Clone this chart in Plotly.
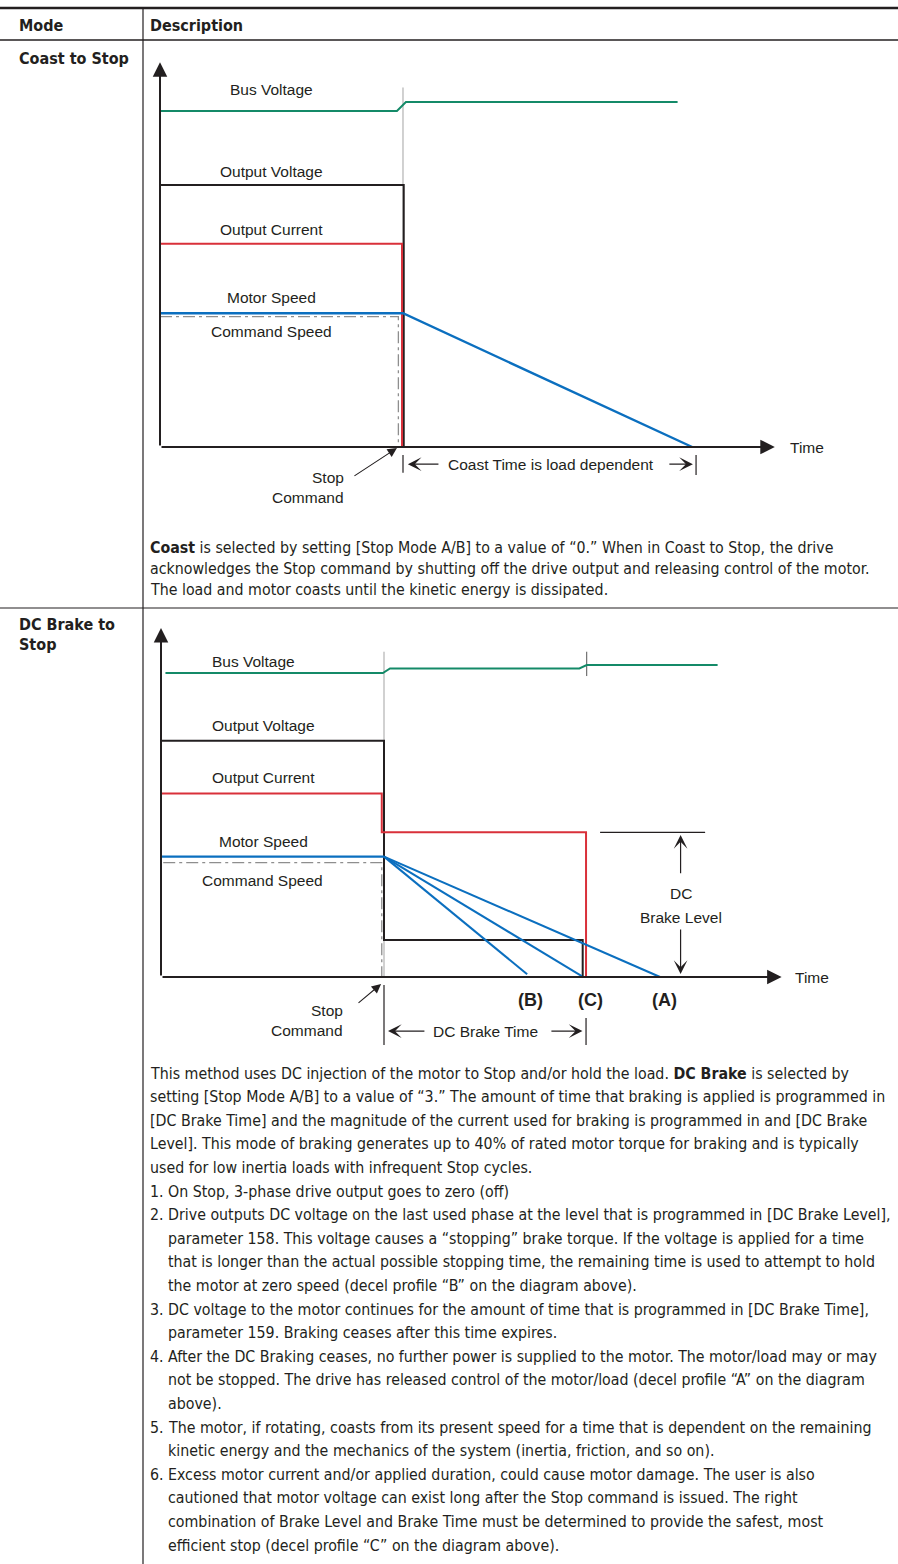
import plotly.graph_objects as go

W, H = 898, 1564

# ---------------- data ----------------
# Coast to Stop diagram (time in arbitrary units, stop command at t = 10; relative signal levels)
coast_bus_t = [0.0, 9.75, 10.12, 21.3]
coast_bus_v = [10.0, 10.0, 10.27, 10.27]
coast_outv_t = [0.0, 10.03, 10.03]
coast_outv_v = [7.8, 7.8, 0.0]
coast_outi_t = [0.0, 9.96, 9.96]
coast_outi_v = [6.05, 6.05, 0.0]
coast_speed_t = [0.0, 10.0, 21.9]
coast_speed_v = [3.98, 3.98, 0.0]
coast_cmd_t = [0.0, 9.81, 9.81]
coast_cmd_v = [3.88, 3.88, 0.0]
coast_stop_t = [10.0, 10.0]
coast_stop_v = [0.0, 10.7]
coast_time_end = 22.06
coast_time_axis_end = 25.3
coast_yaxis_top = 11.45

# DC Brake to Stop diagram
dc_bus_t = [0.2, 9.95, 10.27, 18.76, 19.09, 24.96]
dc_bus_v = [10.0, 10.0, 10.15, 10.15, 10.26, 10.26]
dc_stop_t = [10.0, 10.0]
dc_stop_v = [0.0, 10.7]
dc_tick_t = [19.09, 19.09]
dc_tick_v = [9.9, 10.7]
dc_outv_t = [0.0, 10.0, 10.0, 18.91, 18.91]
dc_outv_v = [7.77, 7.77, 1.22, 1.22, 0.0]
dc_outi_t = [0.0, 9.9, 9.9, 19.06, 19.06]
dc_outi_v = [6.04, 6.04, 4.76, 4.76, 0.0]
dc_speed_t = [0.0, 10.0]
dc_speed_v = [3.96, 3.96]
dc_decel_names = ["(B)", "(C)", "(A)"]
dc_decel_end_t = [16.42, 18.87, 22.38]
dc_decel_end_v = [0.09, 0.03, 0.0]
dc_cmd_t = [0.1, 9.9, 9.9]
dc_cmd_v = [3.76, 3.76, 0.0]
dc_level_mark_t = [19.69, 24.4]
dc_level_v = 4.76
dc_brake_end = 19.06
dc_time_axis_end = 27.83
dc_yaxis_top = 11.48

# ---------------- styles ----------------
GREEN = "#148a68"
BLACK = "#231f20"
RED = "#d9303a"
BLUE = "#0b6fbf"
GRAY = "#a3a3a3"
DASHGRAY = "#8e8e8e"
DIAG_FONT = "Liberation Sans, Arial, sans-serif"
BODY_FONT = "DejaVu Sans Condensed, Liberation Sans Narrow, sans-serif"
BODY_SIZE = 15.8

# diagram geometry (pixel origin, pixels per unit, axis ranges)
D1 = dict(x0=160, sx=24.3, y0=447, sy=33.6, xr=[-0.6, 27.5], yr=[-2.6, 12.2])
D2 = dict(x0=161, sx=22.3, y0=977, sy=30.4, xr=[-0.6, 31.0], yr=[-3.0, 12.2])


def axis_domains(d):
    xd = [(d["x0"] + d["xr"][0] * d["sx"]) / W, (d["x0"] + d["xr"][1] * d["sx"]) / W]
    yd = [1 - (d["y0"] - d["yr"][0] * d["sy"]) / H, 1 - (d["y0"] - d["yr"][1] * d["sy"]) / H]
    return xd, yd


fig = go.Figure()


def add_line(t, v, color, width, axes, dash=None):
    fig.add_trace(go.Scatter(
        x=t, y=v, mode="lines",
        line=dict(color=color, width=width, dash=dash),
        xaxis=axes[0], yaxis=axes[1], hoverinfo="skip", showlegend=False))


A1 = ("x", "y")
A2 = ("x2", "y2")

# ---- diagram 1 ----
add_line(coast_stop_t, coast_stop_v, GRAY, 1, A1)
add_line(coast_cmd_t, coast_cmd_v, DASHGRAY, 1.3, A1, dash="12px,4px,3px,4px")
add_line(coast_bus_t, coast_bus_v, GREEN, 2, A1)
add_line(coast_outv_t, coast_outv_v, BLACK, 2, A1)
add_line(coast_outi_t, coast_outi_v, RED, 2, A1)
add_line(coast_speed_t, coast_speed_v, BLUE, 2.4, A1)

# ---- diagram 2 ----
add_line(dc_stop_t, dc_stop_v, GRAY, 1, A2)
add_line(dc_tick_t, dc_tick_v, "#555555", 1, A2)
add_line(dc_cmd_t, dc_cmd_v, DASHGRAY, 1.3, A2, dash="12px,4px,3px,4px")
add_line(dc_bus_t, dc_bus_v, GREEN, 2, A2)
add_line(dc_outv_t, dc_outv_v, BLACK, 2, A2)
add_line(dc_outi_t, dc_outi_v, RED, 2, A2)
add_line(dc_speed_t, dc_speed_v, BLUE, 2.4, A2)
for te, ve in zip(dc_decel_end_t, dc_decel_end_v):
    add_line([dc_speed_t[-1], te], [dc_speed_v[-1], ve], BLUE, 2, A2)
add_line(dc_level_mark_t, [dc_level_v, dc_level_v], BLACK, 1.3, A2)

ann = []
shapes = []


def arrow(xr, yr, tip, tail, width=2, head=2, size=1.0, color=BLACK):
    ann.append(dict(xref=xr, yref=yr, axref=xr, ayref=yr, x=tip[0], y=tip[1],
                    ax=tail[0], ay=tail[1], text="", showarrow=True,
                    arrowhead=head, arrowsize=size, arrowwidth=width, arrowcolor=color))


def dtext(xr, yr, x, y, s, size=15.5, xanchor="center", bold=False):
    ann.append(dict(xref=xr, yref=yr, x=x, y=y, text=(f"<b>{s}</b>" if bold else s),
                    showarrow=False, xanchor=xanchor, yanchor="middle",
                    font=dict(family=DIAG_FONT, size=size, color=BLACK)))


def vbar(xr, yr, x, y0, y1, width=1.2, color=BLACK):
    shapes.append(dict(type="line", xref=xr, yref=yr, x0=x, x1=x, y0=y0, y1=y1,
                       line=dict(color=color, width=width)))


AX_HEAD = dict(width=2, head=2, size=1.45)
SMALL_HEAD = dict(width=1.2, head=3, size=1.9)

# diagram 1 axes + labels
arrow("x", "y", (0, coast_yaxis_top), (0, 0), **AX_HEAD)
arrow("x", "y", (coast_time_axis_end, 0), (0, 0), **AX_HEAD)
dtext("x", "y", 25.85, 0.0, "Time", xanchor="left")
dtext("x", "y", 4.57, 10.63, "Bus Voltage")
dtext("x", "y", 4.57, 8.21, "Output Voltage")
dtext("x", "y", 4.57, 6.46, "Output Current")
dtext("x", "y", 4.57, 4.44, "Motor Speed")
dtext("x", "y", 4.57, 3.43, "Command Speed")
dtext("x", "y", 7.65, -0.9, "Stop", xanchor="right")
dtext("x", "y", 7.65, -1.49, "Command", xanchor="right")
arrow("x", "y", (9.75, -0.03), (7.94, -0.89), width=1.1, head=2, size=1.7)
vbar("x", "y", coast_stop_t[0], -0.24, -0.77)
vbar("x", "y", coast_time_end, -0.24, -0.83)
arrow("x", "y", (10.2, -0.51), (11.52, -0.51), **SMALL_HEAD)
arrow("x", "y", (21.93, -0.51), (20.9, -0.51), **SMALL_HEAD)
dtext("x", "y", 16.1, -0.51, "Coast Time is load dependent")

# diagram 2 axes + labels
arrow("x2", "y2", (0, dc_yaxis_top), (0, 0), **AX_HEAD)
arrow("x2", "y2", (dc_time_axis_end, 0), (0, 0), **AX_HEAD)
dtext("x2", "y2", 28.35, 0.0, "Time", xanchor="left")
dtext("x2", "y2", 4.17, 10.39, "Bus Voltage")
dtext("x2", "y2", 4.59, 8.26, "Output Voltage")
dtext("x2", "y2", 4.59, 6.55, "Output Current")
dtext("x2", "y2", 4.59, 4.47, "Motor Speed")
dtext("x2", "y2", 4.55, 3.17, "Command Speed")
dtext("x2", "y2", 8.25, -1.09, "Stop", xanchor="right")
dtext("x2", "y2", 8.25, -1.77, "Command", xanchor="right")
arrow("x2", "y2", (9.87, -0.23), (8.79, -0.89), width=1.1, head=2, size=1.7)
for name, tx in zip(dc_decel_names, [16.55, 19.24, 22.56]):
    dtext("x2", "y2", tx, -0.76, name, size=18, bold=True)
dtext("x2", "y2", 23.3, 2.76, "DC")
dtext("x2", "y2", 23.3, 1.97, "Brake Level")
arrow("x2", "y2", (23.3, 4.67), (23.3, 3.36), **SMALL_HEAD)
arrow("x2", "y2", (23.3, 0.1), (23.3, 1.61), **SMALL_HEAD)
vbar("x2", "y2", dc_stop_t[0], -0.26, -2.24)
vbar("x2", "y2", dc_brake_end, -1.35, -2.24)
arrow("x2", "y2", (10.18, -1.78), (11.88, -1.78), **SMALL_HEAD)
arrow("x2", "y2", (18.9, -1.78), (17.44, -1.78), **SMALL_HEAD)
dtext("x2", "y2", 14.53, -1.78, "DC Brake Time")

# ---------------- table text (paper coords from pixel positions) ----------------


def ptext(xpx, ypx, s, size=BODY_SIZE, bold=False):
    ann.append(dict(xref="paper", yref="paper", x=xpx / W, y=1 - ypx / H,
                    text=(f"<b>{s}</b>" if bold else s), showarrow=False,
                    xanchor="left", yanchor="middle",
                    font=dict(family=BODY_FONT, size=size, color=BLACK)))


def pline(x0, y0, x1, y1, width):
    shapes.append(dict(type="line", xref="paper", yref="paper",
                       x0=x0 / W, x1=x1 / W, y0=1 - y0 / H, y1=1 - y1 / H,
                       line=dict(color=BLACK, width=width)))


pline(0, 8, W, 8, 2.5)
pline(0, 40, W, 40, 1.5)
pline(0, 608, W, 608, 1.2)
pline(143, 8, 143, H, 1.2)

HEAD_SIZE = 16
ptext(17, 25, "Mode", size=HEAD_SIZE, bold=True)
ptext(148, 25, "Description", size=HEAD_SIZE, bold=True)
ptext(17, 58, "Coast to Stop", size=HEAD_SIZE, bold=True)
ptext(17, 624, "DC Brake to", size=HEAD_SIZE, bold=True)
ptext(17, 644, "Stop", size=HEAD_SIZE, bold=True)

coast_lines = [
    "<b>Coast</b> is selected by setting [Stop Mode A/B] to a value of \u201c0.\u201d When in Coast to Stop, the drive",
    "acknowledges the Stop command by shutting off the drive output and releasing control of the motor.",
    "The load and motor coasts until the kinetic energy is dissipated.",
]
for i, s in enumerate(coast_lines):
    ptext(148, 547 + i * 21, s)

dc_lines = [
    ("", "This method uses DC injection of the motor to Stop and/or hold the load. <b>DC Brake</b> is selected by"),
    ("", "setting [Stop Mode A/B] to a value of \u201c3.\u201d The amount of time that braking is applied is programmed in"),
    ("", "[DC Brake Time] and the magnitude of the current used for braking is programmed in and [DC Brake"),
    ("", "Level]. This mode of braking generates up to 40% of rated motor torque for braking and is typically"),
    ("", "used for low inertia loads with infrequent Stop cycles."),
    ("1.", "On Stop, 3-phase drive output goes to zero (off)"),
    ("2.", "Drive outputs DC voltage on the last used phase at the level that is programmed in [DC Brake Level],"),
    (" ", "parameter 158. This voltage causes a \u201cstopping\u201d brake torque. If the voltage is applied for a time"),
    (" ", "that is longer than the actual possible stopping time, the remaining time is used to attempt to hold"),
    (" ", "the motor at zero speed (decel profile \u201cB\u201d on the diagram above)."),
    ("3.", "DC voltage to the motor continues for the amount of time that is programmed in [DC Brake Time],"),
    (" ", "parameter 159. Braking ceases after this time expires."),
    ("4.", "After the DC Braking ceases, no further power is supplied to the motor. The motor/load may or may"),
    (" ", "not be stopped. The drive has released control of the motor/load (decel profile \u201cA\u201d on the diagram"),
    (" ", "above)."),
    ("5.", "The motor, if rotating, coasts from its present speed for a time that is dependent on the remaining"),
    (" ", "kinetic energy and the mechanics of the system (inertia, friction, and so on)."),
    ("6.", "Excess motor current and/or applied duration, could cause motor damage. The user is also"),
    (" ", "cautioned that motor voltage can exist long after the Stop command is issued. The right"),
    (" ", "combination of Brake Level and Brake Time must be determined to provide the safest, most"),
    (" ", "efficient stop (decel profile \u201cC\u201d on the diagram above)."),
]
for i, (num, s) in enumerate(dc_lines):
    y = 1073 + i * 23.6
    if num == "":
        ptext(148, y, s)
    else:
        if num.strip():
            ptext(148, y, num)
        ptext(166, y, s)

x1d, y1d = axis_domains(D1)
x2d, y2d = axis_domains(D2)
ax_common = dict(visible=False, showgrid=False, zeroline=False, fixedrange=True)

fig.update_layout(
    width=W, height=H,
    margin=dict(l=0, r=0, t=0, b=0),
    paper_bgcolor="white", plot_bgcolor="rgba(0,0,0,0)",
    showlegend=False,
    xaxis=dict(domain=x1d, range=D1["xr"], anchor="y", **ax_common),
    yaxis=dict(domain=y1d, range=D1["yr"], anchor="x", **ax_common),
    xaxis2=dict(domain=x2d, range=D2["xr"], anchor="y2", **ax_common),
    yaxis2=dict(domain=y2d, range=D2["yr"], anchor="x2", **ax_common),
    annotations=ann,
    shapes=shapes,
)

fig.write_html(
    "out.html",
    config={"displayModeBar": False},
    post_script="document.body.style.margin='0px';document.body.style.overflow='hidden';",
)
